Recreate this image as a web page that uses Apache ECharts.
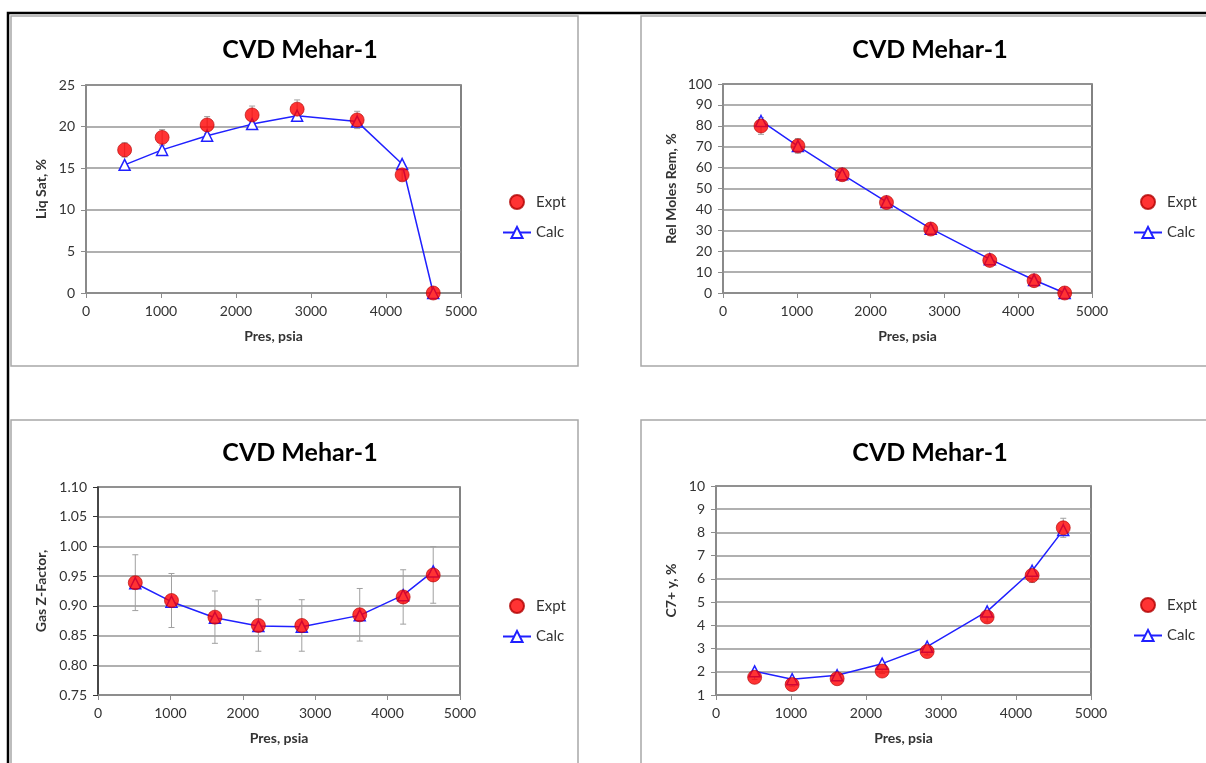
<!DOCTYPE html>
<html>
<head>
<meta charset="utf-8">
<script src="https://cdn.jsdelivr.net/npm/echarts@6/dist/echarts.min.js"></script>
<style>
html,body{margin:0;padding:0;background:#fff;}
#main{width:1206px;height:763px;}
</style>
</head>
<body>
<div id="main"></div>
<script>
// ---- data ----
const titleText = 'CVD Mehar-1';
const xName = 'Pres, psia';
const pres = [515, 1015, 1615, 2215, 2815, 3615, 4215, 4630];
const xTicks = { min: 0, max: 5000, interval: 1000 };

const liqSatExpt = [17.2, 18.7, 20.2, 21.4, 22.1, 20.8, 14.2, 0];
const liqSatCalc = [15.4, 17.2, 18.9, 20.3, 21.3, 20.6, 15.5, 0];

const relMolesExpt = [79.9, 70.4, 56.6, 43.3, 30.6, 15.6, 5.9, 0];
const relMolesCalc = [82.3, 70.3, 56.8, 43.6, 30.8, 16.2, 6.2, 0];

const zExpt = [0.939, 0.909, 0.881, 0.867, 0.867, 0.885, 0.915, 0.952];
const zCalc = [0.938, 0.907, 0.880, 0.866, 0.865, 0.884, 0.918, 0.958];

const c7Expt = [1.76, 1.45, 1.70, 2.03, 2.87, 4.36, 6.15, 8.20];
const c7Calc = [2.02, 1.68, 1.85, 2.35, 3.08, 4.60, 6.35, 8.10];

const errPct = 0.05; // percentage error bars on Expt

const panels = [
  { yName: 'Liq Sat, %', expt: liqSatExpt, calc: liqSatCalc, yMin: 0, yMax: 25, yInt: 5, dec: 0,
    grid: { left: 86, top: 85, width: 375, height: 208 }, nameGap: 38, title: { x: 295, y: 32 }, legend: { left: 497, top: 189 }, leftAxisColor: '#8c8c8c' },
  { yName: 'Rel Moles Rem, %', expt: relMolesExpt, calc: relMolesCalc, yMin: 0, yMax: 100, yInt: 10, dec: 0,
    grid: { left: 723, top: 84, width: 369, height: 209 }, nameGap: 45, title: { x: 925, y: 32 }, legend: { left: 1128, top: 189 }, leftAxisColor: '#8c8c8c' },
  { yName: 'Gas Z-Factor,', expt: zExpt, calc: zCalc, yMin: 0.75, yMax: 1.10, yInt: 0.05, dec: 2,
    grid: { left: 98, top: 487, width: 362, height: 208 }, nameGap: 50, title: { x: 295, y: 435 }, legend: { left: 497, top: 593 }, leftAxisColor: '#333333' },
  { yName: 'C7+ y, %', expt: c7Expt, calc: c7Calc, yMin: 1, yMax: 10, yInt: 1, dec: 0,
    grid: { left: 716, top: 486, width: 375, height: 209 }, nameGap: 38, title: { x: 925, y: 435 }, legend: { left: 1128, top: 592 }, leftAxisColor: '#8c8c8c' }
];

const FONT = 'Lato, "Open Sans", sans-serif';

function renderErr(params, api) {
  const x = api.value(0), y = api.value(1), e = api.value(2);
  const top = api.coord([x, y + e]);
  const bot = api.coord([x, y - e]);
  const cap = 3;
  const st = { stroke: '#a0a0a0', lineWidth: 1 };
  return {
    type: 'group',
    children: [
      { type: 'line', shape: { x1: top[0], y1: top[1], x2: bot[0], y2: bot[1] }, style: st },
      { type: 'line', shape: { x1: top[0] - cap, y1: top[1], x2: top[0] + cap, y2: top[1] }, style: st },
      { type: 'line', shape: { x1: bot[0] - cap, y1: bot[1], x2: bot[0] + cap, y2: bot[1] }, style: st }
    ]
  };
}

const option = {
  animation: false,
  backgroundColor: '#ffffff',
  textStyle: { fontFamily: FONT },
  title: [], grid: [], xAxis: [], yAxis: [], legend: [], series: [],
  graphic: [
    { type: 'rect', shape: { x: 11, y: 16, width: 567, height: 350 }, style: { fill: 'none', stroke: '#a8a8a8', lineWidth: 1.5 }, z: -1 },
    { type: 'rect', shape: { x: 641, y: 16, width: 600, height: 350 }, style: { fill: 'none', stroke: '#a8a8a8', lineWidth: 1.5 }, z: -1 },
    { type: 'rect', shape: { x: 11, y: 420, width: 567, height: 400 }, style: { fill: 'none', stroke: '#a8a8a8', lineWidth: 1.5 }, z: -1 },
    { type: 'rect', shape: { x: 641, y: 420, width: 600, height: 400 }, style: { fill: 'none', stroke: '#a8a8a8', lineWidth: 1.5 }, z: -1 },
    { type: 'rect', shape: { x: 8, y: 13, width: 1300, height: 800 }, style: { fill: 'none', stroke: '#000', lineWidth: 2.5 }, z: 10 }
  ]
};

panels.forEach((p, i) => {
  option.title.push({
    text: titleText, left: p.title.x, top: p.title.y, textAlign: 'center',
    textStyle: { fontFamily: FONT, fontSize: 25, fontWeight: 'bold', color: '#000' }
  });
  option.grid.push(Object.assign({ show: true, borderColor: '#5a5a5a', borderWidth: 1.5, backgroundColor: 'transparent' }, p.grid));
  option.xAxis.push({
    type: 'value', gridIndex: i, min: xTicks.min, max: xTicks.max, interval: xTicks.interval,
    name: xName, nameLocation: 'middle', nameGap: 36,
    nameTextStyle: { fontFamily: FONT, fontSize: 14, fontWeight: 'bold', color: '#333' },
    axisLine: { show: true, onZero: false, lineStyle: { color: '#8c8c8c', width: 1.5 } },
    axisTick: { show: true, inside: false, length: 5, lineStyle: { color: '#8c8c8c' } },
    axisLabel: { margin: 11, fontFamily: FONT, fontSize: 14, color: '#333', formatter: v => String(v) },
    splitLine: { show: false }
  });
  option.yAxis.push({
    type: 'value', gridIndex: i, min: p.yMin, max: p.yMax, interval: p.yInt,
    name: p.yName, nameLocation: 'middle', nameGap: p.nameGap, nameRotate: 90,
    nameTextStyle: { fontFamily: FONT, fontSize: 14, fontWeight: 'bold', color: '#333' },
    axisLine: { show: true, onZero: false, lineStyle: { color: p.leftAxisColor, width: 1.5 } },
    axisTick: { show: true, inside: false, length: 5, lineStyle: { color: p.leftAxisColor } },
    axisLabel: { margin: 11, fontFamily: FONT, fontSize: 14, color: '#333',
      formatter: v => v.toFixed(p.dec) },
    splitLine: { show: true, lineStyle: { color: '#969696', width: 1.5 } }
  });
  option.legend.push({
    data: ['Expt', 'Calc'], orient: 'vertical', left: p.legend.left, top: p.legend.top,
    itemWidth: 28, itemHeight: 14, itemGap: 15, selectedMode: false,
    textStyle: { fontFamily: FONT, fontSize: 15, color: '#333' }
  });
  option.series.push({
    type: 'custom', xAxisIndex: i, yAxisIndex: i, renderItem: renderErr, silent: true, z: 1,
    encode: { x: 0, y: 1 },
    data: pres.map((x, k) => [x, p.expt[k], p.expt[k] * errPct])
  });
  option.series.push({
    name: 'Calc', type: 'line', xAxisIndex: i, yAxisIndex: i, z: 2,
    data: pres.map((x, k) => [x, p.calc[k]]),
    symbol: 'triangle', symbolSize: 11,
    lineStyle: { color: '#2020ff', width: 1.5 },
    itemStyle: { color: '#ffffff', borderColor: '#2020ff', borderWidth: 1.5 }
  });
  option.series.push({
    name: 'Expt', type: 'scatter', xAxisIndex: i, yAxisIndex: i, z: 3,
    data: pres.map((x, k) => [x, p.expt[k]]),
    symbol: 'circle', symbolSize: 14,
    itemStyle: { color: '#ff0000', borderColor: '#b00000', borderWidth: 0.8 }
  });
});

const chart = echarts.init(document.getElementById('main'), null, { renderer: 'canvas' });
chart.setOption(option);
</script>
</body>
</html>
